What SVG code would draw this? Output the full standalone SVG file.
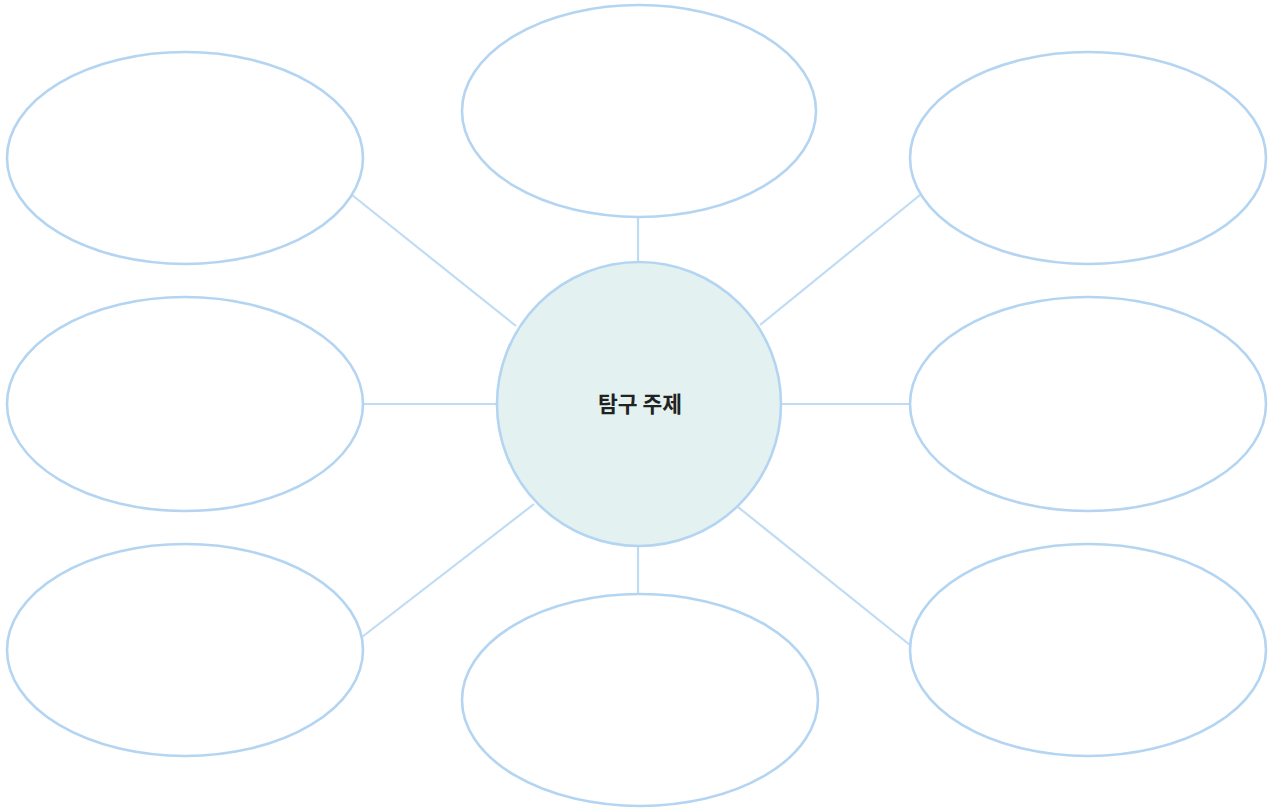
<svg xmlns="http://www.w3.org/2000/svg" width="1274" height="809" viewBox="0 0 1274 809">
  <style>
    .bubble { fill: #ffffff; stroke: #b4d5f2; stroke-width: 2.6; }
    .hub { fill: #e3f2f0; stroke: #b4d5f2; stroke-width: 2.6; }
    .link { stroke: #c0dcf4; stroke-width: 2.2; fill: none; }
    .label { font-family: "Noto Sans CJK KR", "Noto Sans", sans-serif; font-size: 21.5px; font-weight: 700; fill: #222222; }
  </style>
  <rect width="1274" height="809" fill="#ffffff"/>
  <g id="connectors">
    <line class="link" x1="352" y1="195" x2="516" y2="326"/>
    <line class="link" x1="638" y1="217" x2="638" y2="262"/>
    <line class="link" x1="920" y1="195" x2="760" y2="325"/>
    <line class="link" x1="363" y1="404" x2="497" y2="404"/>
    <line class="link" x1="782" y1="404" x2="910" y2="404"/>
    <line class="link" x1="362" y1="637" x2="534" y2="504"/>
    <line class="link" x1="638" y1="546" x2="638" y2="595"/>
    <line class="link" x1="738" y1="507" x2="910" y2="645"/>
  </g>
  <g id="hub">
    <circle class="hub" cx="639" cy="404" r="142"/>
    <text class="label" x="640" y="412" text-anchor="middle">탐구 주제</text>
  </g>
  <g id="node-top-left"><ellipse class="bubble" cx="185" cy="158" rx="178" ry="106"/></g>
  <g id="node-top"><ellipse class="bubble" cx="639" cy="111" rx="177" ry="106"/></g>
  <g id="node-top-right"><ellipse class="bubble" cx="1088" cy="158" rx="178" ry="106"/></g>
  <g id="node-mid-left"><ellipse class="bubble" cx="185" cy="404" rx="178" ry="107"/></g>
  <g id="node-mid-right"><ellipse class="bubble" cx="1088" cy="404" rx="178" ry="107"/></g>
  <g id="node-bottom-left"><ellipse class="bubble" cx="185" cy="650" rx="178" ry="106"/></g>
  <g id="node-bottom"><ellipse class="bubble" cx="640" cy="700" rx="178" ry="106"/></g>
  <g id="node-bottom-right"><ellipse class="bubble" cx="1088" cy="650" rx="178" ry="106"/></g>
</svg>
